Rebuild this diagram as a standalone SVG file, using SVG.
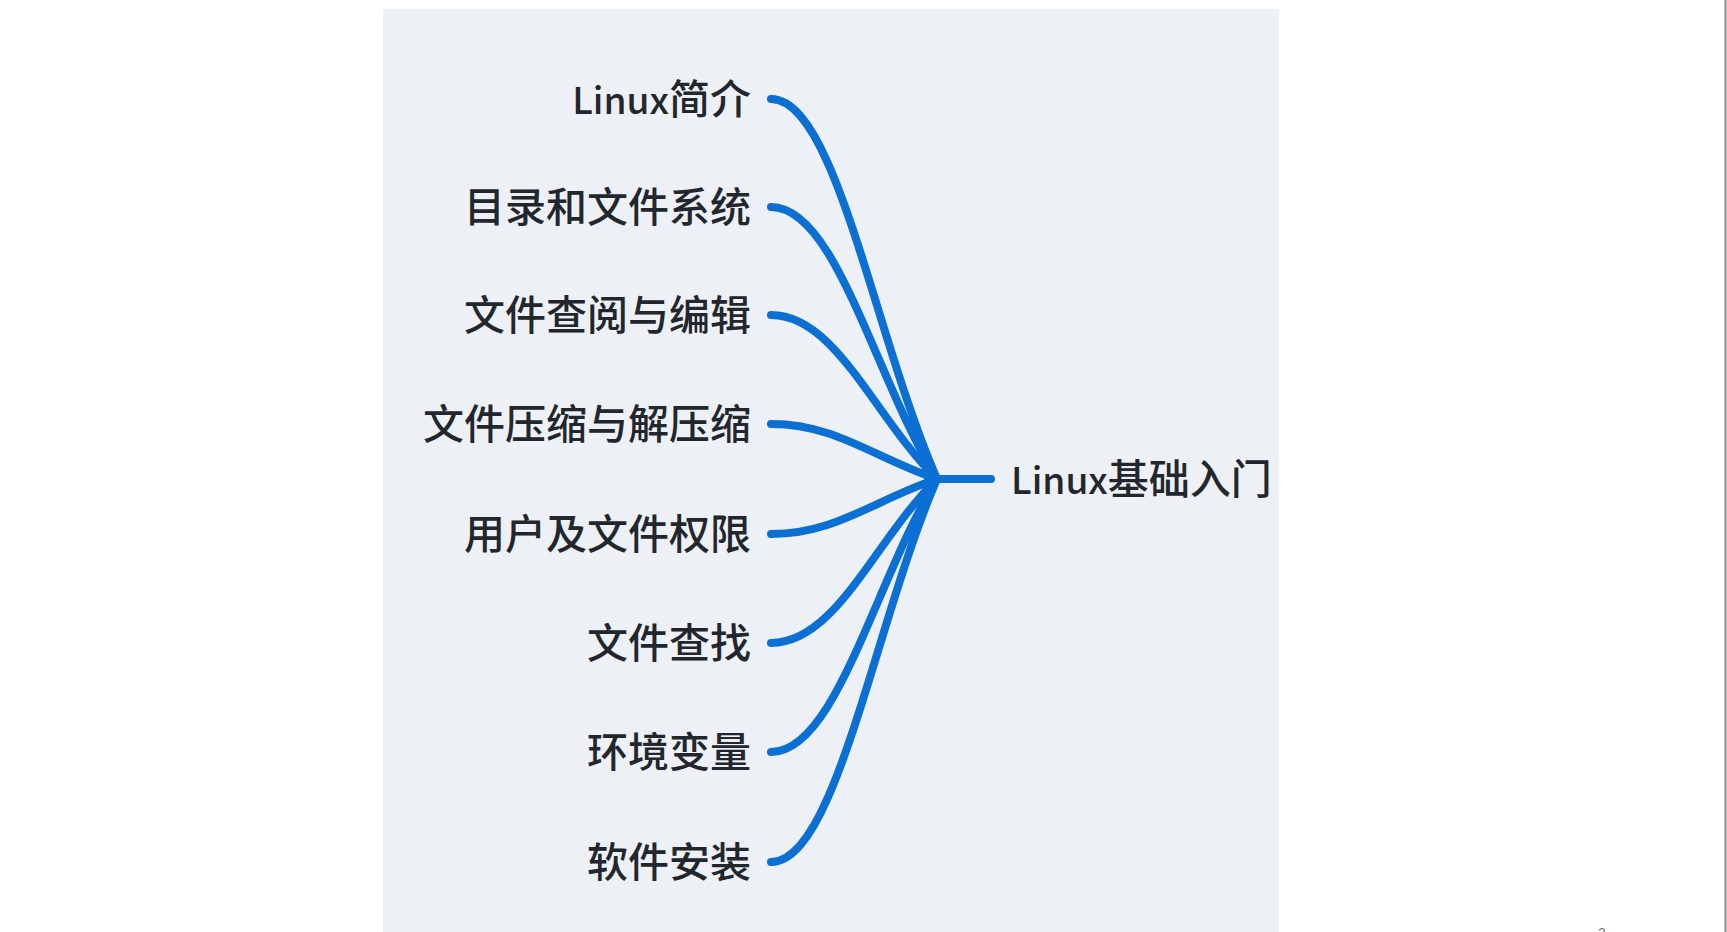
<svg xmlns="http://www.w3.org/2000/svg" width="1727" height="932" viewBox="0 0 1727 932">
<style>
.lbl{font-family:"Noto Sans CJK SC","Noto Sans",sans-serif;font-size:41px;font-weight:500;fill:#22272d;}
.lat{font-size:37px;}
.lft{text-anchor:end;}
.edge{fill:none;stroke:#0b6fd3;stroke-width:8;stroke-linecap:round;}
</style>
<rect x="0" y="0" width="1727" height="932" fill="#ffffff"/>
<rect id="panel" x="383" y="9" width="896" height="930" fill="#edf1f5"/>
<line x1="1725.5" y1="0" x2="1725.5" y2="932" stroke="#8a8a8a" stroke-width="2"/>
<text x="1598" y="938" font-family="Liberation Sans, sans-serif" font-size="14" fill="#777">2</text>
<g id="connectors">
<path class="edge" d="M771 99 C836 99 874 335 937 479"/>
<path class="edge" d="M771 207 C836 207 874 376 937 479"/>
<path class="edge" d="M771 315 C836 315 874 417 937 479"/>
<path class="edge" d="M771 424 C836 424 874 458 937 479"/>
<path class="edge" d="M771 534 C836 534 874 500 937 479"/>
<path class="edge" d="M771 643 C836 643 874 541 937 479"/>
<path class="edge" d="M771 752 C836 752 874 583 937 479"/>
<path class="edge" d="M771 862 C836 862 874 625 937 479"/>
<path class="edge" d="M928 479 L991 479"/>
</g>
<g id="root"><text class="lbl" x="1011" y="494" font-size="40"><tspan class="lat">Linux</tspan>基础入门</text></g>
<g id="n1"><text class="lbl lft" x="751" y="114"><tspan class="lat">Linux</tspan>简介</text></g>
<g id="n2"><text class="lbl lft" x="751" y="222">目录和文件系统</text></g>
<g id="n3"><text class="lbl lft" x="751" y="330">文件查阅与编辑</text></g>
<g id="n4"><text class="lbl lft" x="751" y="439">文件压缩与解压缩</text></g>
<g id="n5"><text class="lbl lft" x="751" y="549">用户及文件权限</text></g>
<g id="n6"><text class="lbl lft" x="751" y="658">文件查找</text></g>
<g id="n7"><text class="lbl lft" x="751" y="767">环境变量</text></g>
<g id="n8"><text class="lbl lft" x="751" y="877">软件安装</text></g>
</svg>
